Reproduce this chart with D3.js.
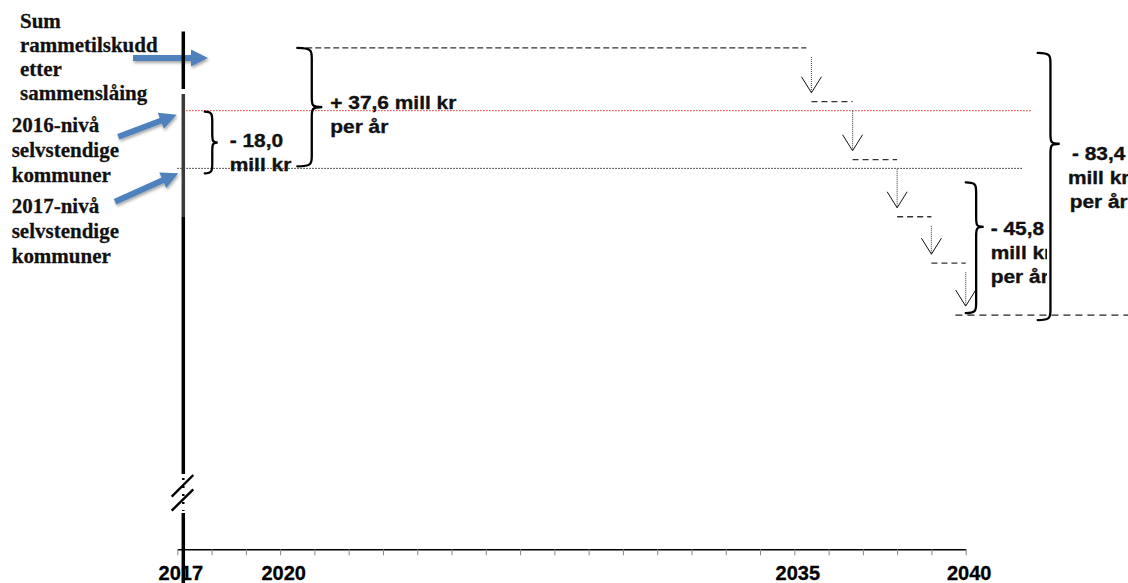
<!DOCTYPE html>
<html>
<head>
<meta charset="utf-8">
<script src="https://cdn.jsdelivr.net/npm/d3@7"></script>
<style>
  html, body { margin: 0; padding: 0; background: #fff; }
  svg { display: block; }
</style>
</head>
<body>
<script>
// Yearly axis
const tickYears = d3.range(2017, 2041);
const labeledYears = [2017, 2020, 2035, 2040];

// Levels (mill kr relative to the 2017 level of the independent municipalities)
const levelNames = [
  ["Sum", "rammetilskudd", "etter", "sammenslåing"],
  ["2016-nivå", "selvstendige", "kommuner"],
  ["2017-nivå", "selvstendige", "kommuner"]
];
const levelValues = [37.6, 18.0, 0];

// Phase-out of the merger grant: year of each cut and level after it
const stepYears = [2035.5, 2036.7, 2038.0, 2039.0, 2040.0];
const stepValues = [20.8, 2.7, -15.1, -29.6, -45.8];

// Braced differences
const braceLabels = [
  ["- 18,0", "mill kr"],
  ["+ 37,6 mill kr", "per år"],
  ["- 45,8", "mill kr", "per år"],
  ["- 83,4", "mill kr", "per år"]
];
const braceFrom = [18.0, 37.6, 0, 37.6];
const braceTo = [0, 0, -45.8, -45.8];
const braceYears = [2017.8, 2020.5, 2040.0, 2042.1];

const W = 1128, H = 583;
const axisY = 549.3;

const x = d3.scaleLinear().domain([2017, 2040]).range([177.3, 965.7]);
const y = d3.scaleLinear().domain([-45.8, 37.6]).range([315.1, 47.9]);

const svg = d3.select("body").append("svg")
  .attr("width", W).attr("height", H)
  .attr("viewBox", `0 0 ${W} ${H}`);

const defs = svg.append("defs");
const shadow = defs.append("filter").attr("id", "arrowShadow")
  .attr("x", "-20%").attr("y", "-40%").attr("width", "150%").attr("height", "200%");
shadow.append("feDropShadow").attr("dx", 1).attr("dy", 2)
  .attr("stdDeviation", 1.4).attr("flood-color", "#000").attr("flood-opacity", 0.35);
defs.append("clipPath").attr("id", "clipInner")
  .append("rect").attr("x", 0).attr("y", 0).attr("width", 1047).attr("height", H);

const sans = "'Liberation Sans', Arial, sans-serif";
const serif = "'Liberation Serif', 'Times New Roman', serif";

// ---- x axis ----
const axis = d3.axisBottom(x)
  .tickValues(tickYears)
  .tickSize(6)
  .tickSizeOuter(0)
  .tickPadding(11)
  .tickFormat(d => labeledYears.includes(d) ? String(d) : "");
const gAxis = svg.append("g").attr("transform", `translate(0,${axisY})`).call(axis);
gAxis.select(".domain").attr("stroke", "#000").attr("stroke-width", 1.5);
gAxis.selectAll(".tick line").attr("stroke", "#888").attr("stroke-width", 1);
gAxis.selectAll(".tick text")
  .attr("font-family", sans).attr("font-weight", "bold")
  .attr("font-size", 20).attr("fill", "#000")
  .attr("stroke", "#000").attr("stroke-width", 0.3)
  .attr("dx", 3);

// ---- level lines ----
const lines = svg.append("g").attr("fill", "none");
// sum after merger (dashed)
lines.append("line")
  .attr("x1", x(2020.5)).attr("x2", x(2035.35))
  .attr("y1", y(levelValues[0])).attr("y2", y(levelValues[0]))
  .attr("stroke", "#333").attr("stroke-width", 1.2).attr("stroke-dasharray", "6,3");
// 2016 level (red dotted)
lines.append("line")
  .attr("x1", x(2017.17)).attr("x2", x(2041.9))
  .attr("y1", y(levelValues[1])).attr("y2", y(levelValues[1]))
  .attr("stroke", "#e8262a").attr("stroke-width", 1).attr("stroke-dasharray", "1.5,1.5");
// 2017 level (black dotted)
lines.append("line")
  .attr("x1", x(2017.0)).attr("x2", x(2041.67))
  .attr("y1", y(levelValues[2])).attr("y2", y(levelValues[2]))
  .attr("stroke", "#222").attr("stroke-width", 1).attr("stroke-dasharray", "1.5,1.5");

// ---- staircase of the phase-out ----
const stairs = svg.append("g").attr("fill", "none");
stepValues.forEach((v, i) => {
  const prev = i === 0 ? levelValues[0] : stepValues[i - 1];
  const xs = x(stepYears[i]);
  const y0 = y(prev) + 9, y1 = y(v) - 9;
  stairs.append("line")
    .attr("x1", xs).attr("x2", xs).attr("y1", y0).attr("y2", y1)
    .attr("stroke", "#555").attr("stroke-width", 1.2).attr("stroke-dasharray", "1,1");
  stairs.append("path")
    .attr("d", `M${xs - 10},${y1 - 16} L${xs},${y1} L${xs + 10},${y1 - 16}`)
    .attr("stroke", "#111").attr("stroke-width", 1);
  if (i < stepValues.length - 1) {
    stairs.append("line")
      .attr("x1", xs).attr("x2", x(stepYears[i + 1]))
      .attr("y1", y(v)).attr("y2", y(v))
      .attr("stroke", "#333").attr("stroke-width", 1.3).attr("stroke-dasharray", "6,4");
  }
});
// final level
stairs.append("line")
  .attr("x1", x(2039.7)).attr("x2", x(2045))
  .attr("y1", y(stepValues[stepValues.length - 1])).attr("y2", y(stepValues[stepValues.length - 1]))
  .attr("stroke", "#222").attr("stroke-width", 1.3).attr("stroke-dasharray", "7,5");

// ---- curly braces with labels ----
const braceWidth = [13, 25, 18, 22];
const braceTip = [0.5, 0.5, 0.34, 0.34];
const bracePad = [[1, 5], [0, -2], [14, -2], [5, 5]];
const textDx = [12, 8, 7, 39];
const textDy = [4, 2, 8, 16];
const textAnchor = ["start", "start", "start", "middle"];

function bracePath(x0, yTop, yBot, w, frac) {
  const xb = x0 + w * 0.58, xt = x0 + w;
  const ym = yTop + (yBot - yTop) * frac;
  const r = Math.min(10, (yBot - yTop) / 6);
  return `M${x0},${yTop} C${xb},${yTop} ${xb},${yTop + r * 0.3} ${xb},${yTop + r}` +
    ` L${xb},${ym - r} C${xb},${ym - r * 0.2} ${xb},${ym} ${xt},${ym}` +
    ` C${xb},${ym} ${xb},${ym + r * 0.2} ${xb},${ym + r}` +
    ` L${xb},${yBot - r} C${xb},${yBot - r * 0.3} ${xb},${yBot} ${x0},${yBot}`;
}

const braces = svg.append("g");
braceLabels.forEach((lbl, i) => {
  const x0 = x(braceYears[i]);
  const yTop = y(braceFrom[i]) + bracePad[i][0];
  const yBot = y(braceTo[i]) + bracePad[i][1];
  const ym = yTop + (yBot - yTop) * braceTip[i];
  const xt = x0 + braceWidth[i];
  const g = braces.append("g");
  if (i === 2) g.attr("clip-path", "url(#clipInner)");
  lbl.forEach((line, j) => {
    g.append("text")
      .attr("transform", `translate(${xt + textDx[i]},${ym + textDy[i] + j * 24}) scale(1.1,1)`)
      .attr("text-anchor", textAnchor[i])
      .attr("font-family", sans).attr("font-weight", "bold").attr("font-size", 19)
      .attr("fill", "#111").attr("stroke", "#111").attr("stroke-width", 0.35)
      .text(line);
  });
  braces.append("path")
    .attr("d", bracePath(x0, yTop, yBot, braceWidth[i], braceTip[i]))
    .attr("fill", "none").attr("stroke", "#000").attr("stroke-width", 2.3)
    .attr("stroke-linecap", "round");
});

// ---- level names on the left ----
const labelPos = [[20, 28.3, 24], [11.7, 131.7, 25], [11.7, 213.3, 25]];
const names = svg.append("g");
levelNames.forEach((lines, i) => {
  lines.forEach((t, j) => {
    names.append("text")
      .attr("transform", `translate(${labelPos[i][0]},${labelPos[i][1] + j * labelPos[i][2]}) scale(1.05,1)`)
      .attr("font-family", serif).attr("font-weight", "bold").attr("font-size", 20)
      .attr("fill", "#111").attr("stroke", "#111").attr("stroke-width", 0.25)
      .text(t);
  });
});

// ---- pointer arrows from the names to the levels ----
const tipOffset = [10, 4, 5];
const arrowTip = levelValues.map((v, i) => [[208, 176.7, 178.3][i], y(v) + tipOffset[i]]);
const arrowTail = [[133, arrowTip[0][1]], [118.3, 136.7], [115, 201.7]];

function blockArrow(t, p, w, hw, hl) {
  const dx = p[0] - t[0], dy = p[1] - t[1];
  const L = Math.hypot(dx, dy);
  const ux = dx / L, uy = dy / L, nx = -uy, ny = ux;
  const hx = p[0] - ux * hl, hy = p[1] - uy * hl;
  const pts = [
    [t[0] + nx * w / 2, t[1] + ny * w / 2],
    [hx + nx * w / 2, hy + ny * w / 2],
    [hx + nx * hw / 2, hy + ny * hw / 2],
    p,
    [hx - nx * hw / 2, hy - ny * hw / 2],
    [hx - nx * w / 2, hy - ny * w / 2],
    [t[0] - nx * w / 2, t[1] - ny * w / 2]
  ];
  return "M" + pts.map(q => q.join(",")).join("L") + "Z";
}
const arrows = svg.append("g").attr("filter", "url(#arrowShadow)");
arrowTip.forEach((p, i) => {
  arrows.append("path")
    .attr("d", blockArrow(arrowTail[i], p, 6, 17, 17))
    .attr("fill", "#4f81bd");
});

// ---- vertical axis with break ----
const vx = x(2017) + 6;
const vert = svg.append("g").attr("stroke-linecap", "butt");
vert.append("line").attr("x1", vx).attr("x2", vx).attr("y1", 31.5).attr("y2", 89)
  .attr("stroke", "#000").attr("stroke-width", 3.5);
vert.append("line").attr("x1", vx).attr("x2", vx).attr("y1", 94).attr("y2", 217)
  .attr("stroke", "#3a3a3a").attr("stroke-width", 3.5);
vert.append("line").attr("x1", vx).attr("x2", vx).attr("y1", 217).attr("y2", 474)
  .attr("stroke", "#000").attr("stroke-width", 3.5);
vert.append("line").attr("x1", vx).attr("x2", vx).attr("y1", 478).attr("y2", 511)
  .attr("stroke", "#000").attr("stroke-width", 2.5).attr("stroke-dasharray", "2,6");
vert.append("line").attr("x1", vx).attr("x2", vx).attr("y1", 513).attr("y2", H)
  .attr("stroke", "#000").attr("stroke-width", 3.5);
[[496.7, 475], [510.7, 489.3]].forEach(([ya, yb]) => {
  vert.append("line")
    .attr("x1", vx - 11.6).attr("y1", ya).attr("x2", vx + 10).attr("y2", yb)
    .attr("stroke", "#000").attr("stroke-width", 2.4);
});
</script>
</body>
</html>
